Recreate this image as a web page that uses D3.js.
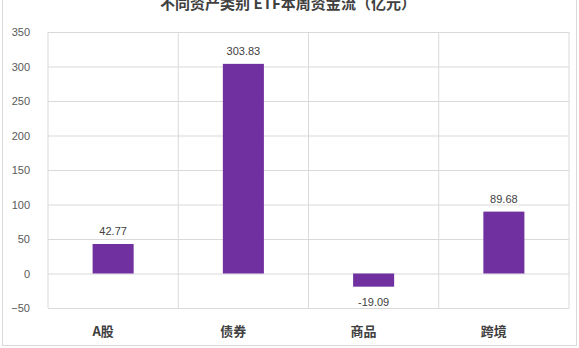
<!DOCTYPE html>
<html>
<head>
<meta charset="utf-8">
<script src="https://cdn.jsdelivr.net/npm/d3@7"></script>
<style>
  html, body { margin: 0; padding: 0; background: #fff; }
  svg { display: block; }
  .axis--y text { font-family: "Liberation Sans", Arial, sans-serif; font-size: 11px; fill: #595959; }
  .axis--y .domain { display: none; }
  .axis--y .tick line { stroke: #d9d9d9; }
  .value { font-family: "Liberation Sans", Arial, sans-serif; font-size: 11px; fill: #404040; }
  .cat { font-family: "Noto Sans CJK SC", sans-serif; font-size: 13px; font-weight: bold; fill: #404040; }
  .heading { font-family: "Noto Sans CJK SC", sans-serif; font-size: 15px; font-weight: bold; fill: #404040; }
</style>
</head>
<body>
<svg id="chart"></svg>
<script>
const categories = ['A股', '债券', '商品', '跨境'];
const flows = [42.77, 303.83, -19.09, 89.68];
const yTicks = [-50, 0, 50, 100, 150, 200, 250, 300, 350];
const title = '不同资产类别 ETF本周资金流（亿元）';

const WIDTH = 579;
const HEIGHT = 348;
const MARGIN = { top: 32, right: 10, bottom: 40, left: 48 };
const width = 521;
const height = 276;

const data = categories.map((c, i) => ({ category: c, value: flows[i] }));

const $svg = d3.select('#chart')
  .attr('width', WIDTH)
  .attr('height', HEIGHT);

// outer frame
$svg.append('rect')
  .attr('x', 2.5).attr('y', -10)
  .attr('width', WIDTH - 5).attr('height', HEIGHT - 2.5 + 10)
  .attr('fill', 'none')
  .attr('stroke', '#d9d9d9');

$svg.append('text')
  .attr('class', 'heading')
  .attr('x', 288)
  .attr('y', 9)
  .attr('text-anchor', 'middle')
  .text(title);

const scaleX = d3.scaleBand()
  .domain(categories)
  .range([0, width]);

const scaleY = d3.scaleLinear()
  .domain([-50, 350])
  .range([height, 0]);

const $g = $svg.append('g')
  .attr('transform', `translate(${MARGIN.left},${MARGIN.top})`);

const axisY = d3.axisLeft(scaleY)
  .tickValues(yTicks)
  .tickSize(-width)
  .tickPadding(18);

$g.append('g')
  .attr('class', 'axis--y')
  .call(axisY);

// vertical category separators
$g.selectAll('.sep')
  .data(categories.concat(['end']))
  .enter().append('line')
  .attr('class', 'sep')
  .attr('x1', (d, i) => i < categories.length ? scaleX(d) : width)
  .attr('x2', (d, i) => i < categories.length ? scaleX(d) : width)
  .attr('y1', 0)
  .attr('y2', height)
  .attr('stroke', '#d9d9d9');

const barW = scaleX.bandwidth() * 0.315;

$g.selectAll('.bar')
  .data(data)
  .enter().append('rect')
  .attr('class', 'bar')
  .attr('x', d => scaleX(d.category) + scaleX.bandwidth() / 2 - barW / 2)
  .attr('y', d => scaleY(Math.max(0, d.value)))
  .attr('width', barW)
  .attr('height', d => Math.abs(scaleY(d.value) - scaleY(0)))
  .attr('fill', '#7030a0');

$g.selectAll('.value')
  .data(data)
  .enter().append('text')
  .attr('class', 'value')
  .attr('x', d => scaleX(d.category) + scaleX.bandwidth() / 2)
  .attr('y', d => d.value >= 0 ? scaleY(d.value) - 9 : scaleY(d.value) + 19)
  .attr('text-anchor', 'middle')
  .text(d => d.value.toFixed(2));

$g.selectAll('.cat')
  .data(data)
  .enter().append('text')
  .attr('class', 'cat')
  .attr('x', d => scaleX(d.category) + scaleX.bandwidth() / 2 - 10)
  .attr('y', height + 28)
  .attr('text-anchor', 'middle')
  .text(d => d.category);
</script>
</body>
</html>
